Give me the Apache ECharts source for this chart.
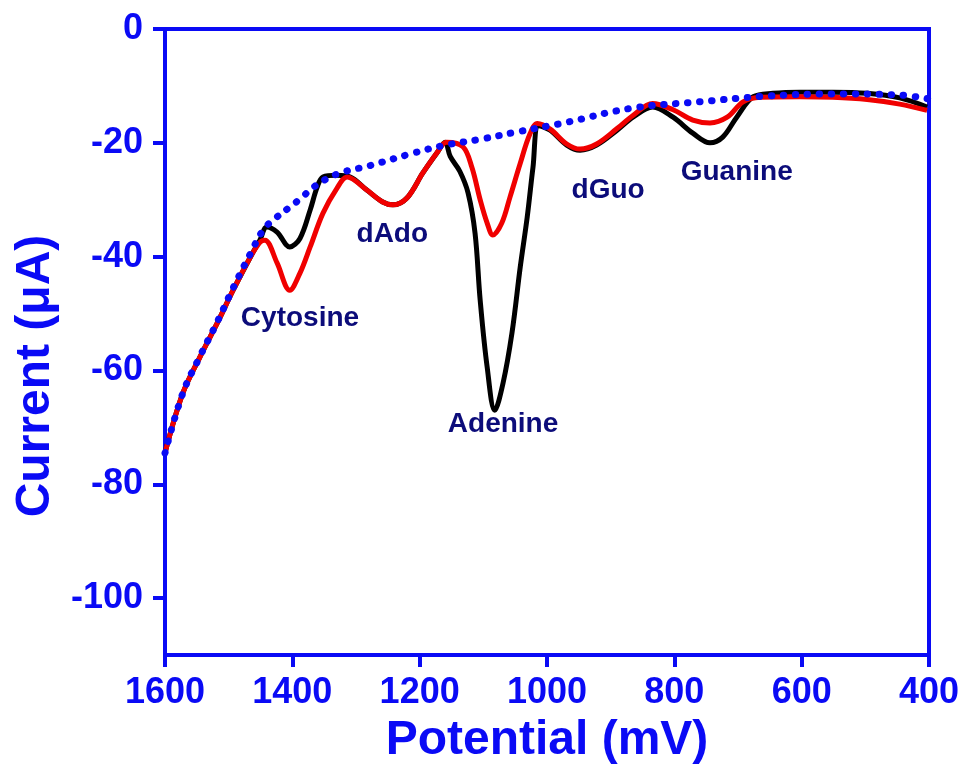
<!DOCTYPE html>
<html>
<head>
<meta charset="utf-8">
<script src="https://cdn.jsdelivr.net/npm/echarts@6/dist/echarts.min.js"></script>
<style>
    html, body { margin: 0; padding: 0; background: #fff; }
    #chart { width: 965px; height: 776px; }
</style>
</head>
<body>
<div id="chart"></div>
<script>
// black trace (potential mV / current uA)
var blackV = [1600, 1572, 1545, 1518, 1493, 1466, 1451, 1440, 1424, 1404, 1388, 1372, 1361, 1352, 1330,
    1309, 1283, 1258, 1242, 1220, 1195, 1173, 1160, 1152, 1137, 1124, 1113, 1105, 1094, 1082, 1069, 1055,
    1042, 1031, 1022, 1013, 995, 969, 948, 922, 890, 865, 834, 802, 771, 744, 724, 702, 676, 645, 603,
    551, 497, 446, 403];
var blackI = [-74.5, -64.0, -57.6, -51.7, -45.9, -40.1, -37.1, -34.8, -35.7, -38.3, -36.8, -31.8, -27.8, -26.0, -25.7,
    -26.0, -28.3, -30.4, -30.9, -29.7, -25.3, -21.8, -19.9, -22.4, -25.0, -28.8, -35.9, -47.6, -59.4, -67.0, -62.2, -53.4,
    -41.8, -33.0, -24.3, -17.0, -17.8, -20.4, -21.3, -20.4, -17.8, -15.5, -13.7, -15.5, -18.3, -20.0, -19.0, -15.5, -11.9, -11.3, -11.1,
    -11.1, -11.3, -12.1, -13.7];

// red trace
var redV = [1600, 1572, 1545, 1518, 1493, 1466, 1451, 1443, 1424, 1404, 1388, 1372, 1352, 1330, 1314,
    1283, 1258, 1242, 1220, 1195, 1173, 1158, 1132, 1118, 1105, 1094, 1085, 1071, 1058, 1042, 1027, 1015,
    995, 969, 948, 922, 890, 865, 834, 802, 771, 744, 717, 692, 665, 603, 551, 497, 446, 403];
var redI = [-74.5, -64.0, -57.6, -51.7, -45.9, -40.1, -37.5, -37.1, -41.1, -45.9, -42.9, -38.3, -32.4, -28.0, -26.0,
    -28.3, -30.4, -30.9, -29.7, -25.3, -21.8, -19.9, -20.7, -24.3, -30.0, -34.1, -36.2, -34.1, -29.5, -23.6, -18.5, -16.6,
    -17.6, -20.2, -21.1, -20.2, -17.5, -15.2, -13.1, -14.2, -16.0, -16.5, -15.5, -12.8, -12.0, -11.9, -12.0, -12.4, -13.2, -14.3];

// dotted blue baseline
var baseV = [1600, 1572, 1545, 1518, 1493, 1466, 1445, 1425, 1404, 1385, 1367, 1330, 1278, 1216, 1164,
    1101, 1048, 996, 969, 866, 761, 656, 552, 447, 400];
var baseI = [-74.5, -64.0, -57.5, -51.5, -45.5, -39.5, -35.2, -33.1, -31.3, -29.6, -27.8, -25.5, -24.0, -22.0, -20.5,
    -19.3, -18.1, -17.0, -16.4, -13.9, -12.8, -11.8, -11.4, -11.6, -12.3];

// peak annotations
var peakNames = ["Cytosine", "dAdo", "Adenine", "dGuo", "Guanine"];
var peakV = [1388, 1243, 1069, 904, 702];
var peakI = [-50.8, -36.0, -69.4, -28.3, -25.1];

var xTicks = [1600, 1400, 1200, 1000, 800, 600, 400];
var yTicks = [-100, -80, -60, -40, -20, 0];

function pairs(xs, ys) {
    var out = [];
    for (var i = 0; i < xs.length; i++) {
        out.push([xs[i], ys[i]]);
    }
    return out;
}

var blue = "#0a0af5";
var navy = "#0c0c7a";
var font = "'Liberation Sans', Arial, sans-serif";

var peakData = [];
for (var i = 0; i < peakNames.length; i++) {
    peakData.push({ name: peakNames[i], value: [peakV[i], peakI[i]] });
}

var chart = echarts.init(document.getElementById("chart"));
var option = {
    animation: false,
    backgroundColor: "#fff",
    grid: {
        left: 165,
        right: 36,
        top: 29,
        bottom: 121,
        show: true,
        borderColor: blue,
        borderWidth: 4
    },
    xAxis: {
        type: "value",
        min: 400,
        max: 1600,
        interval: 200,
        inverse: true,
        name: "Potential (mV)",
        nameLocation: "middle",
        nameGap: 62,
        nameTextStyle: { color: blue, fontSize: 48, fontWeight: "bold", fontFamily: font },
        axisLine: { onZero: false, lineStyle: { color: blue, width: 4 } },
        axisTick: { length: 12, lineStyle: { color: blue, width: 4 } },
        axisLabel: {
            color: blue, fontSize: 36, fontWeight: "bold", fontFamily: font, margin: 20,
            customValues: xTicks,
            formatter: function (v) { return String(v); }
        },
        splitLine: { show: false }
    },
    yAxis: {
        type: "value",
        min: -110,
        max: 0,
        name: "Current (\u03bcA)",
        nameLocation: "middle",
        nameGap: 100,
        nameTextStyle: { color: blue, fontSize: 48, fontWeight: "bold", fontFamily: font, padding: [0, 68, 0, 0] },
        axisLine: { onZero: false, lineStyle: { color: blue, width: 4 } },
        axisTick: { length: 12, lineStyle: { color: blue, width: 4 }, customValues: yTicks },
        axisLabel: {
            color: blue, fontSize: 36, fontWeight: "bold", fontFamily: font, margin: 22,
            customValues: yTicks,
            formatter: function (v) { return String(v); }
        },
        splitLine: { show: false }
    },
    series: [{
        name: "black",
        type: "line",
        smooth: 0.35,
        symbol: "none",
        data: pairs(blackV, blackI),
        lineStyle: { color: "#000", width: 5 }
    },
    {
        name: "red",
        type: "line",
        smooth: 0.35,
        symbol: "none",
        data: pairs(redV, redI),
        lineStyle: { color: "#f00000", width: 5 }
    },
    {
        name: "baseline",
        type: "line",
        smooth: 0.4,
        symbol: "none",
        data: pairs(baseV, baseI),
        lineStyle: { color: "#0a0af5", width: 7, type: [0.5, 11.5], cap: "round" }
    },
    {
        name: "peaks",
        type: "scatter",
        symbolSize: 0,
        itemStyle: { opacity: 1 },
        data: peakData,
        label: {
            show: true,
            position: "inside",
            formatter: "{b}",
            color: navy,
            fontSize: 28,
            fontWeight: "bold",
            fontFamily: font
        }
    }]
};
chart.setOption(option);
</script>
</body>
</html>
